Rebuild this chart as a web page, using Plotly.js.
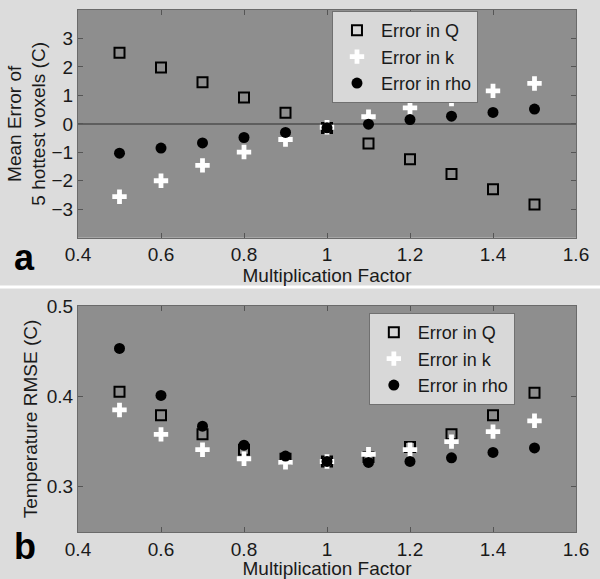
<!DOCTYPE html>
<html>
<head>
<meta charset="utf-8">
<script src="https://cdn.plot.ly/plotly-3.0.1.min.js"></script>
<style>
  html, body { margin: 0; padding: 0; background: #dcdcdc; }
  #chart { width: 600px; height: 579px; }
</style>
</head>
<body>
<div id="chart"></div>
<script>
// multiplication factors, shared by both panels
var factors = [0.5, 0.6, 0.7, 0.8, 0.9, 1.0, 1.1, 1.2, 1.3, 1.4, 1.5];

// panel a: mean error of 5 hottest voxels (C)
var meanQ   = [2.5, 1.98, 1.46, 0.93, 0.39, -0.15, -0.69, -1.24, -1.76, -2.3, -2.83];
var meanK   = [-2.56, -2.0, -1.46, -0.99, -0.55, -0.12, 0.25, 0.56, 0.87, 1.16, 1.42];
var meanRho = [-1.03, -0.85, -0.67, -0.48, -0.30, -0.14, -0.01, 0.15, 0.27, 0.40, 0.52];

// panel b: temperature RMSE (C)
var rmseQ   = [0.405, 0.379, 0.358, 0.341, 0.331, 0.328, 0.333, 0.344, 0.358, 0.379, 0.404];
var rmseK   = [0.385, 0.358, 0.341, 0.331, 0.327, 0.328, 0.336, 0.341, 0.350, 0.361, 0.373];
var rmseRho = [0.453, 0.401, 0.367, 0.346, 0.334, 0.328, 0.327, 0.328, 0.332, 0.338, 0.343];

var names = ['Error in Q', 'Error in k', 'Error in rho'];

var sqMarker   = {symbol: 'square-open', size: 10, color: '#000', line: {width: 2, color: '#000'}};
var plusMarker = {symbol: 'cross', size: 12, color: '#fff', line: {width: 0}};
var dotMarker  = {symbol: 'circle', size: 11, color: '#000', line: {width: 0}};

var data = [
  {x: factors, y: meanQ,   mode: 'markers', name: names[0], marker: sqMarker,   legend: 'legend'},
  {x: factors, y: meanK,   mode: 'markers', name: names[1], marker: plusMarker, legend: 'legend'},
  {x: factors, y: meanRho, mode: 'markers', name: names[2], marker: dotMarker,  legend: 'legend'},
  {x: factors, y: rmseQ,   mode: 'markers', name: names[0], marker: sqMarker,   xaxis: 'x2', yaxis: 'y2', legend: 'legend2'},
  {x: factors, y: rmseK,   mode: 'markers', name: names[1], marker: plusMarker, xaxis: 'x2', yaxis: 'y2', legend: 'legend2'},
  {x: factors, y: rmseRho, mode: 'markers', name: names[2], marker: dotMarker,  xaxis: 'x2', yaxis: 'y2', legend: 'legend2'}
];

var font = {family: 'Liberation Sans, Arial, sans-serif', size: 19, color: '#1a1a1a'};

var axisBase = {
  showline: true, mirror: 'ticks', linecolor: '#6a6a6a', linewidth: 1,
  ticks: 'inside', ticklen: 5, tickcolor: '#555', showgrid: false,
  zeroline: false, tickfont: font
};

function ax(extra) { return Object.assign({}, axisBase, extra); }

var legendBase = {
  bgcolor: '#d8d8d8', bordercolor: '#707070', borderwidth: 1,
  font: {family: font.family, size: 18, color: '#1a1a1a'},
  xanchor: 'left', yanchor: 'top', traceorder: 'normal', itemwidth: 38
};

var layout = {
  width: 600, height: 579,
  paper_bgcolor: '#dcdcdc', plot_bgcolor: '#8e8e8e',
  font: font,
  margin: {l: 78, r: 24, t: 10, b: 47},
  xaxis: ax({domain: [0, 1], anchor: 'y', range: [0.4, 1.6], dtick: 0.2,
             title: {text: 'Multiplication Factor', font: font, standoff: 4}}),
  yaxis: ax({domain: [0.5638, 1], anchor: 'x', range: [-4, 4], tickvals: [-3, -2, -1, 0, 1, 2, 3],
             zeroline: true, zerolinecolor: '#5e5e5e', zerolinewidth: 1.5,
             title: {text: 'Mean Error of<br>5 hottest voxels (C)', font: font, standoff: 0}}),
  xaxis2: ax({domain: [0, 1], anchor: 'y2', range: [0.4, 1.6], dtick: 0.2,
              title: {text: 'Multiplication Factor', font: font, standoff: 4}}),
  yaxis2: ax({domain: [0, 0.433], anchor: 'x2', range: [0.25, 0.5], tickvals: [0.3, 0.4, 0.5],
              title: {text: 'Temperature RMSE (C)', font: font, standoff: 4}}),
  legend: Object.assign({}, legendBase, {x: 0.51, y: 0.998}),
  legend2: Object.assign({}, legendBase, {x: 0.584, y: 0.4195}),
  shapes: [
    {type: 'line', xref: 'paper', yref: 'paper', x0: -0.16, x1: 1.05, y0: 0.4693, y1: 0.4693,
     line: {color: '#ffffff', width: 3}}
  ],
  annotations: [
    {text: '<b>a</b>', xref: 'paper', yref: 'paper', x: -0.108, y: 0.525, showarrow: false,
     xanchor: 'center', yanchor: 'middle',
     font: {family: 'Liberation Sans, Arial, sans-serif', size: 36, color: '#000'}},
    {text: '<b>b</b>', xref: 'paper', yref: 'paper', x: -0.106, y: -0.027, showarrow: false,
     xanchor: 'center', yanchor: 'middle',
     font: {family: 'Liberation Sans, Arial, sans-serif', size: 36, color: '#000'}}
  ]
};

Plotly.newPlot('chart', data, layout, {displayModeBar: false, staticPlot: true});
</script>
</body>
</html>
